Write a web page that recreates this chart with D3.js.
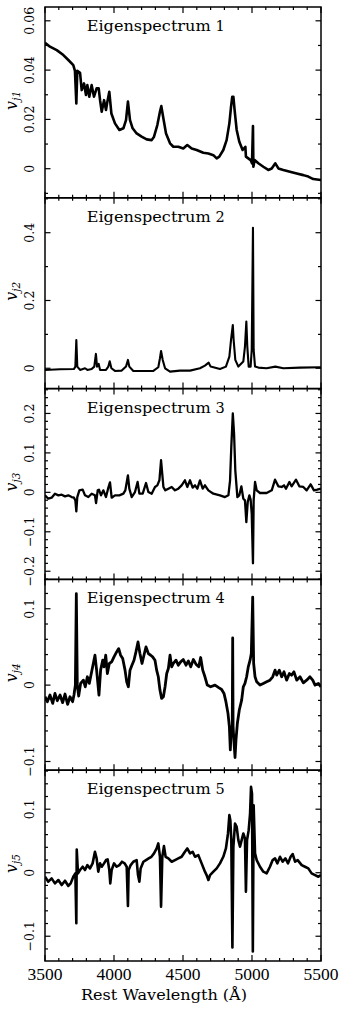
<!DOCTYPE html>
<html>
<head>
<meta charset="utf-8">
<script src="https://cdn.jsdelivr.net/npm/d3@7"></script>
<style>
html,body{margin:0;padding:0;background:#fff;}
svg{display:block;}
</style>
</head>
<body>
<svg id="chart" width="344" height="1011"></svg>
<script>
// ---------------- DATA ----------------
const panelTitles = ["Eigenspectrum", "Eigenspectrum", "Eigenspectrum", "Eigenspectrum", "Eigenspectrum"];
const panelNumbers = ["1", "2", "3", "4", "5"];
const axisSubscripts = ["j1", "j2", "j3", "j4", "j5"];

const xTickValues = [3500, 4000, 4500, 5000, 5500];
const xTickLabels = ["3500", "4000", "4500", "5000", "5500"];
const xAxisTitle = "Rest Wavelength (Å)";

const yDomain1 = [-0.0118, 0.0656];
const yDomain2 = [-0.06, 0.503];
const yDomain3 = [-0.2207, 0.263];
const yDomain4 = [-0.1114, 0.1384];
const yDomain5 = [-0.139, 0.1614];

const yTicks1 = [0, 0.02, 0.04, 0.06];
const yTickLabels1 = ["0", "0.02", "0.04", "0.06"];
const yMinor1 = [-0.01, 0, 0.01, 0.02, 0.03, 0.04, 0.05, 0.06];
const yTicks2 = [0, 0.2, 0.4];
const yTickLabels2 = ["0", "0.2", "0.4"];
const yMinor2 = [0, 0.1, 0.2, 0.3, 0.4, 0.5];
const yTicks3 = [-0.2, -0.1, 0, 0.1, 0.2];
const yTickLabels3 = ["\u22120.2", "\u22120.1", "0", "0.1", "0.2"];
const yMinor3 = [-0.22, -0.2, -0.18, -0.16, -0.14, -0.12, -0.1, -0.08, -0.06, -0.04, -0.02, 0, 0.02, 0.04, 0.06, 0.08, 0.1, 0.12, 0.14, 0.16, 0.18, 0.2, 0.22, 0.24, 0.26];
const yTicks4 = [-0.1, 0, 0.1];
const yTickLabels4 = ["\u22120.1", "0", "0.1"];
const yMinor4 = [-0.1, -0.08, -0.06, -0.04, -0.02, 0, 0.02, 0.04, 0.06, 0.08, 0.1, 0.12];
const yTicks5 = [-0.1, 0, 0.1];
const yTickLabels5 = ["\u22120.1", "0", "0.1"];
const yMinor5 = [-0.12, -0.1, -0.08, -0.06, -0.04, -0.02, 0, 0.02, 0.04, 0.06, 0.08, 0.1, 0.12, 0.14, 0.16];

const wave1 = [3500,3536,3585,3633,3669,3705,3717,3727,3734,3754,3766,3783,3797,3807,3821,3838,3855,3874,3889,3899,3911,3928,3942,3952,3966,3981,4007,4039,4068,4087,4101,4116,4135,4164,4200,4237,4273,4290,4314,4333,4343,4358,4377,4406,4430,4466,4502,4531,4563,4599,4647,4684,4720,4744,4763,4792,4816,4836,4848,4857,4865,4874,4889,4908,4932,4952,4956,4973,4990,5000,5007,5010,5019,5046,5082,5118,5143,5169,5191,5227,5275,5324,5372,5408,5444,5500];
const flux1 = [0.0511,0.0495,0.0481,0.0461,0.0441,0.0420,0.0397,0.0265,0.0397,0.0389,0.0319,0.0346,0.0299,0.0339,0.0292,0.0339,0.0292,0.0326,0.0326,0.0278,0.0231,0.0278,0.0238,0.0272,0.0312,0.0224,0.0184,0.0157,0.0164,0.0197,0.0272,0.0197,0.0164,0.0143,0.0130,0.0119,0.0116,0.0130,0.0177,0.0231,0.0254,0.0204,0.0143,0.0103,0.0089,0.0089,0.0082,0.0096,0.0082,0.0076,0.0065,0.0062,0.0055,0.0042,0.0049,0.0076,0.0116,0.0184,0.0251,0.0292,0.0292,0.0238,0.0157,0.0109,0.0076,0.0089,0.0049,0.0042,0.0035,0.0022,0.0173,0.0008,0.0035,0.0022,0.0008,-0.0005,0.0001,0.0022,0.0001,-0.0005,-0.0012,-0.0019,-0.0026,-0.0032,-0.0042,-0.0046];

const wave2 = [3500,3609,3710,3720,3727,3734,3754,3790,3807,3838,3857,3869,3877,3889,3899,3942,3959,3969,3981,4007,4056,4087,4101,4111,4140,4213,4285,4321,4333,4341,4353,4370,4406,4478,4551,4623,4659,4686,4700,4768,4811,4836,4848,4861,4867,4879,4901,4937,4949,4959,4966,4976,4990,4998,5007,5012,5022,5046,5106,5169,5227,5348,5500];
const flux2 = [-0.0049,-0.003,-0.002,0.0049,0.0835,0.0049,-0.0049,0,-0.0049,-0.002,0.0049,0.0423,0.0049,0.0128,-0.0049,-0.0049,0.0049,0.0206,0,-0.0079,-0.0069,0.0049,0.0246,0.0049,-0.0079,-0.0079,-0.0079,0.003,0.0295,0.0511,0.0246,0,-0.0098,-0.0069,-0.0069,0,0.0079,0.0167,0.0049,-0.002,0.0049,0.0344,0.0835,0.1278,0.0835,0.0246,0.0049,0.0197,0.0639,0.1376,0.0639,0.0049,0.0049,0.0541,0.4147,0.0541,0.0049,0.002,0,0.0049,0,0.002,0.003];

const wave3 = [3500,3524,3548,3572,3597,3621,3645,3669,3693,3710,3720,3727,3734,3749,3773,3790,3814,3838,3862,3870,3882,3891,3906,3923,3942,3957,3971,3983,4007,4039,4068,4082,4101,4111,4128,4152,4171,4184,4208,4232,4249,4273,4297,4314,4329,4341,4358,4372,4394,4418,4442,4466,4490,4514,4531,4551,4570,4587,4604,4623,4643,4659,4684,4720,4768,4804,4829,4841,4850,4861,4870,4879,4894,4908,4923,4937,4949,4959,4969,4981,4990,4998,5007,5012,5022,5034,5058,5106,5143,5167,5191,5215,5232,5246,5271,5287,5319,5343,5372,5396,5425,5449,5473,5500];
const flux3 = [-0.0076,-0.0161,-0.0136,-0.0034,-0.0076,-0.0059,-0.0102,-0.0076,-0.0119,-0.0136,-0.0203,-0.0483,-0.0119,0.0051,0.0068,-0.0076,-0.0119,-0.0034,-0.0076,-0.0271,0.0051,0.0068,-0.0076,0.0051,-0.0119,0.0093,0.0254,-0.0136,-0.0076,-0.0076,-0.0034,0.0051,0.0432,0.0093,-0.0119,0.0008,0.0263,-0.0034,-0.0034,0.0237,0.0008,-0.0034,0.0136,0.0178,0.0305,0.0814,0.0136,0.0051,0.0093,0.0136,0.0051,0.0093,0.0178,0.0305,0.0136,0.0305,0.0119,0.0178,0.0093,0.0305,0.0093,0.0178,0.0051,-0.0034,-0.0076,-0.0119,-0.0076,0.0305,0.1153,0.2,0.1492,0.0559,-0.0119,-0.0076,0.0153,-0.0161,-0.0203,-0.0754,-0.0246,-0.0076,-0.0186,-0.0542,-0.1797,-0.0203,0.0263,0.0051,-0.0017,-0.0017,0.0051,0.0322,0.0153,0.0136,0.0178,0.0093,0.0263,0.0153,0.0322,0.0153,0.0136,0.0051,0.0203,0.0051,0.0068,0.0093];

const wave4 = [3500,3517,3536,3556,3572,3589,3609,3628,3645,3664,3681,3700,3710,3720,3727,3734,3744,3758,3778,3792,3807,3821,3838,3850,3862,3874,3891,3903,3918,3928,3940,3952,3966,3983,4000,4019,4034,4048,4063,4080,4092,4104,4116,4130,4145,4159,4174,4188,4203,4217,4232,4249,4266,4280,4297,4309,4321,4333,4345,4358,4370,4382,4394,4406,4418,4430,4449,4466,4483,4502,4522,4539,4556,4575,4594,4614,4628,4643,4659,4676,4700,4732,4756,4780,4797,4811,4826,4836,4843,4850,4857,4860,4863,4870,4877,4884,4894,4908,4925,4937,4949,4961,4973,4986,4995,5005,5012,5022,5034,5058,5082,5106,5130,5150,5167,5179,5198,5215,5232,5251,5271,5287,5304,5324,5348,5372,5396,5420,5440,5457,5481,5500];
const flux4 = [-0.0152,-0.0217,-0.013,-0.0239,-0.0109,-0.0204,-0.013,-0.023,-0.0117,-0.0252,-0.0152,-0.0217,-0.013,0,0.1196,0,-0.0143,0.0022,0.0065,-0.0022,0.0109,0.0022,0.0174,0.0283,0.0391,0.0196,-0.013,0.0196,0.0326,0.0239,0.0391,0.0152,0.0283,0.0304,0.037,0.0435,0.0478,0.0391,0.0348,0.0196,0.0043,-0.0022,0.0196,0.0261,0.0326,0.0435,0.0565,0.0413,0.0283,0.0391,0.05,0.0413,0.0391,0.037,0.0326,0.0196,0.0109,-0.0065,-0.0174,-0.0152,-0.0022,0.0152,0.0217,0.0391,0.0239,0.0283,0.0326,0.0261,0.0304,0.0335,0.0261,0.0317,0.0239,0.0335,0.0274,0.0239,0.0361,0.0196,0.0109,0,-0.0022,0,-0.003,-0.0057,-0.0109,-0.0217,-0.037,-0.0543,-0.0848,-0.0543,-0.0543,0.0617,-0.0543,-0.0761,-0.0948,-0.0717,-0.05,-0.0326,-0.0196,-0.0022,0.0022,0.0109,0.0239,0.0326,0.0413,0.1152,0.0283,0.0109,0.0043,0,0.0022,0.0043,0.0065,0.0109,0.0196,0.013,0.0196,0.0109,0.0174,0.0065,0.0152,0.013,0.0174,0.0065,0.0109,0.003,0.0065,0.0109,0.0065,0,0.0022,-0.0022];

const wave5 = [3500,3524,3548,3572,3597,3621,3645,3669,3686,3705,3720,3727,3730,3739,3754,3773,3790,3807,3826,3845,3862,3874,3886,3899,3911,3928,3942,3954,3966,3973,3983,4000,4019,4039,4058,4077,4092,4101,4106,4121,4140,4164,4174,4184,4193,4213,4232,4251,4271,4290,4309,4321,4333,4341,4350,4362,4374,4394,4418,4442,4466,4490,4514,4531,4551,4570,4587,4611,4635,4659,4671,4684,4696,4720,4744,4768,4792,4811,4826,4836,4843,4850,4858,4865,4877,4889,4901,4913,4925,4937,4949,4956,4964,4976,4986,4993,5000,5006,5012,5022,5034,5058,5082,5106,5130,5150,5167,5184,5203,5222,5242,5261,5280,5295,5312,5331,5360,5384,5408,5432,5457,5481,5500];
const flux5 = [-0.0063,-0.0141,-0.0089,-0.0168,-0.0115,-0.0194,-0.0126,-0.0209,-0.0168,-0.0063,-0.001,-0.0796,0.0366,-0.001,0.0042,0.0094,0.0042,0.012,0.0068,0.0147,0.033,0.0225,0.0016,0.0147,0.0094,0.0147,0.0199,0.0209,0.0042,-0.0168,0.0042,0.0147,0.0094,0.012,0.0173,0.0147,0.0094,-0.0524,0.0042,0.012,0.0173,0.0199,-0.0037,-0.0141,0.0068,0.0173,0.0199,0.0225,0.0251,0.0304,0.0382,0.0461,0.0251,-0.0534,0.0251,0.0419,0.0251,0.0225,0.0173,0.0199,0.0225,0.0251,0.033,0.0382,0.0304,0.033,0.0251,0.0277,0.0147,0.0016,-0.0037,-0.0115,-0.0037,0.0016,0.0068,0.0147,0.0251,0.0382,0.0618,0.0906,0.0827,0.0513,-0.1178,0.0408,0.0775,0.0723,0.0513,0.0408,0.0513,0.0618,0.0539,-0.0298,0.0513,0.067,0.0932,0.1351,0.1246,-0.1241,0.1063,0.0304,0.0199,0.0094,0.0016,-0.001,0.0094,0.0199,0.0225,0.0147,0.0251,0.0173,0.0225,0.0147,0.0251,0.0293,0.0173,0.0199,0.012,0.0094,0.0068,-0.001,-0.0037,-0.0063,-0.0037];

// ---------------- LAYOUT ----------------
const plotLeft = 45, plotRight = 321, plotTop = 7, panelH = 190.8;
const serif = "'DejaVu Serif', 'Liberation Serif', serif";

const panels = [
  {wave: wave1, flux: flux1, dom: yDomain1, ticks: yTicks1, labels: yTickLabels1, minor: yMinor1, sw: 2.6},
  {wave: wave2, flux: flux2, dom: yDomain2, ticks: yTicks2, labels: yTickLabels2, minor: yMinor2, sw: 2.1},
  {wave: wave3, flux: flux3, dom: yDomain3, ticks: yTicks3, labels: yTickLabels3, minor: yMinor3, sw: 2.3},
  {wave: wave4, flux: flux4, dom: yDomain4, ticks: yTicks4, labels: yTickLabels4, minor: yMinor4, sw: 2.8},
  {wave: wave5, flux: flux5, dom: yDomain5, ticks: yTicks5, labels: yTickLabels5, minor: yMinor5, sw: 2.6}
];

const svg = d3.select("#chart");
svg.append("rect").attr("width", 344).attr("height", 1011).attr("fill", "#fff");

const x = d3.scaleLinear().domain([3500, 5500]).range([plotLeft, plotRight]);
const xMinor = d3.range(3500, 5501, 100);

panels.forEach((p, i) => {
  const y0 = plotTop + i * panelH, y1 = y0 + panelH;
  const y = d3.scaleLinear().domain(p.dom).range([y1, y0]);
  const g = svg.append("g");

  const clipId = "clip" + i;
  svg.append("clipPath").attr("id", clipId)
    .append("rect").attr("x", plotLeft).attr("y", y0).attr("width", plotRight - plotLeft).attr("height", panelH);

  // spectrum
  const pts = d3.range(Math.min(p.wave.length, p.flux.length)).map(k => [p.wave[k], p.flux[k]]);
  const line = d3.line().x(d => x(d[0])).y(d => y(d[1]));
  g.append("path").datum(pts)
    .attr("clip-path", `url(#${clipId})`)
    .attr("d", line)
    .attr("fill", "none").attr("stroke", "#000")
    .attr("stroke-width", p.sw).attr("stroke-linejoin", "round");

  // x ticks top & bottom
  xMinor.forEach(v => {
    const len = xTickValues.includes(v) ? 6 : 3;
    g.append("line").attr("x1", x(v)).attr("x2", x(v)).attr("y1", y1).attr("y2", y1 - len)
      .attr("stroke", "#000").attr("stroke-width", 1.2);
    g.append("line").attr("x1", x(v)).attr("x2", x(v)).attr("y1", y0).attr("y2", y0 + len)
      .attr("stroke", "#000").attr("stroke-width", 1.2);
  });
  // y ticks left & right
  const isMajor = v => p.ticks.some(t => Math.abs(t - v) < 1e-9);
  p.minor.forEach(v => {
    const yy = y(v);
    if (yy < y0 - 0.5 || yy > y1 + 0.5) return;
    const len = isMajor(v) ? 5.5 : 3;
    g.append("line").attr("x1", plotLeft).attr("x2", plotLeft + len).attr("y1", yy).attr("y2", yy)
      .attr("stroke", "#000").attr("stroke-width", 1.2);
    g.append("line").attr("x1", plotRight).attr("x2", plotRight - len).attr("y1", yy).attr("y2", yy)
      .attr("stroke", "#000").attr("stroke-width", 1.2);
  });

  // y tick labels
  p.ticks.forEach((v, k) => {
    g.append("text")
      .attr("transform", `translate(34,${y(v)}) rotate(-90)`)
      .attr("text-anchor", "middle")
      .attr("font-family", serif).attr("font-size", 12.5)
      .attr("fill", "#000")
      .text(p.labels[k]);
  });

  // frame
  g.append("rect").attr("x", plotLeft).attr("y", y0).attr("width", plotRight - plotLeft).attr("height", panelH)
    .attr("fill", "none").attr("stroke", "#000").attr("stroke-width", 1.5);

  // title
  g.append("text").attr("x", 86.7).attr("y", y0 + 24)
    .attr("font-family", serif).attr("font-size", 14.5)
    .attr("textLength", 124).attr("lengthAdjust", "spacingAndGlyphs")
    .attr("fill", "#000").text(panelTitles[i]);
  g.append("text").attr("x", 220).attr("y", y0 + 24)
    .attr("text-anchor", "middle")
    .attr("font-family", serif).attr("font-size", 14.5)
    .attr("fill", "#000").text(panelNumbers[i]);

  // y axis label
  const lab = g.append("text")
    .attr("transform", `translate(16.5,${(y0 + y1) / 2 - 2}) rotate(-90)`)
    .attr("text-anchor", "middle")
    .attr("font-family", serif).attr("fill", "#000");
  lab.append("tspan").attr("font-size", 16).attr("font-style", "italic").text("v");
  lab.append("tspan").attr("font-size", 10.5).attr("font-style", "italic").attr("dy", 3).text(axisSubscripts[i]);

  // x tick labels (bottom panel)
  if (i === panels.length - 1) {
    xTickValues.forEach((v, k) => {
      svg.append("text").attr("x", x(v)).attr("y", 980)
        .attr("text-anchor", "middle")
        .attr("font-family", "'Liberation Serif', serif").attr("font-size", 17.5)
        .attr("fill", "#000").text(xTickLabels[k]);
    });
  }
});

svg.append("text").attr("x", 81).attr("y", 1000)
  .attr("font-family", serif).attr("font-size", 14.5)
  .attr("textLength", 166).attr("lengthAdjust", "spacingAndGlyphs")
  .attr("fill", "#000").text(xAxisTitle);
</script>
</body>
</html>
